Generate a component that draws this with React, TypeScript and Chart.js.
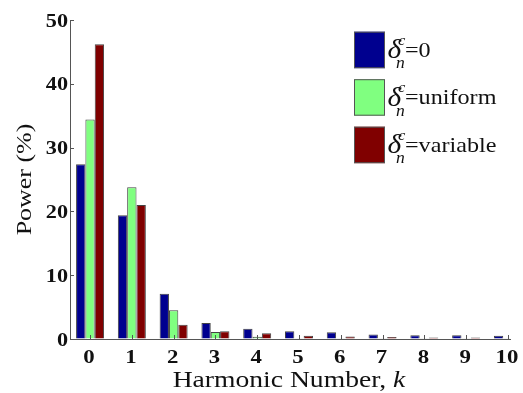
import React, { useEffect, useRef } from "react";
import { Chart, registerables } from "chart.js";

Chart.register(...registerables);

const categories = [0, 1, 2, 3, 4, 5, 6, 7, 8, 9, 10];
const zeroValues = [27.4, 19.4, 7.1, 2.5, 1.6, 1.2, 1.05, 0.7, 0.6, 0.6, 0.5];
const uniformValues = [34.4, 23.8, 4.5, 1.1, 0.35, 0.1, 0.1, 0.1, 0.1, 0.1, 0.1];
const variableValues = [46.2, 21.0, 2.25, 1.2, 0.9, 0.5, 0.4, 0.3, 0.25, 0.25, 0.1];
const yTicks = [0, 10, 20, 30, 40, 50];
const xTickLabels = ["0", "1", "2", "3", "4", "5", "6", "7", "8", "9", "10"];
const legendSuffixes = ["=0", "=uniform", "=variable"];
const colors = ["#00008F", "#80FF80", "#800000"];

const SERIF = "'Liberation Serif', 'Times New Roman', serif";
const STRETCH = 1.2;

function stretchedText(ctx: any, text: string, x: number, y: number, font: string, align: string, sx = STRETCH) {
  ctx.save();
  ctx.font = font;
  const w = ctx.measureText(text).width * sx;
  let x0 = x;
  if (align === "center") x0 = x - w / 2;
  else if (align === "right") x0 = x - w;
  ctx.translate(x0, y);
  ctx.scale(sx, 1);
  ctx.textAlign = "left";
  ctx.fillText(text, 0, 0);
  ctx.restore();
  return w;
}

const decorPlugin = {
  id: "decor",
  afterDraw(chart: any) {
    const ctx = chart.ctx;
    const { left, top, bottom } = chart.chartArea;
    const xs = chart.scales.x;
    const ys = chart.scales.y;
    ctx.save();
    // inward ticks
    ctx.strokeStyle = "#555";
    ctx.lineWidth = 1;
    ctx.beginPath();
    yTicks.forEach((v) => {
      const y = Math.round(ys.getPixelForValue(v)) + 0.5;
      ctx.moveTo(left, y);
      ctx.lineTo(left + 4, y);
    });
    categories.forEach((v) => {
      const x = Math.round(xs.getPixelForValue(v)) + 0.5;
      ctx.moveTo(x, bottom);
      ctx.lineTo(x, bottom - 4);
    });
    ctx.stroke();

    ctx.fillStyle = "#111";
    ctx.textBaseline = "alphabetic";

    // y tick labels
    yTicks.forEach((v) => {
      const y = ys.getPixelForValue(v);
      stretchedText(ctx, String(v), left - 2, y + 6.5, `bold 18.5px ${SERIF}`, "right");
    });
    // x tick labels
    categories.forEach((v, i) => {
      const x = xs.getPixelForValue(v);
      stretchedText(ctx, xTickLabels[i], x - 1, 363, `bold 19px ${SERIF}`, "center");
    });

    // y title
    ctx.save();
    ctx.translate(31, (top + bottom) / 2);
    ctx.rotate(-Math.PI / 2);
    stretchedText(ctx, "Power (%)", 0, 0, `22px ${SERIF}`, "center", 1.18);
    ctx.restore();

    // x title
    const part1 = "Harmonic Number, ";
    const part2 = "k";
    ctx.font = `23px ${SERIF}`;
    const w1 = ctx.measureText(part1).width * STRETCH;
    ctx.font = `italic 23px ${SERIF}`;
    const w2 = ctx.measureText(part2).width * STRETCH;
    const x0 = 289 - (w1 + w2) / 2;
    stretchedText(ctx, part1, x0, 387, `23px ${SERIF}`, "left");
    stretchedText(ctx, part2, x0 + w1, 387, `italic 23px ${SERIF}`, "left");

    // legend
    chart.data.datasets.forEach((ds: any, i: number) => {
      const t = 31.7 + 47.5 * i;
      ctx.fillStyle = ds.backgroundColor;
      ctx.fillRect(354, t, 31, 36.5);
      ctx.strokeStyle = "#555";
      ctx.strokeRect(354.5, t + 0.5, 30, 35.5);
      ctx.fillStyle = "#111";
      stretchedText(ctx, "\u03b4", 387.5, t + 26.5, `italic 28px ${SERIF}`, "left", 1.05);
      stretchedText(ctx, "c", 398, t + 13, `italic 15px ${SERIF}`, "left", 1.1);
      stretchedText(ctx, "n", 396, t + 36.5, `italic 16px ${SERIF}`, "left", 1.1);
      stretchedText(ctx, legendSuffixes[i], 405, t + 25, `21px ${SERIF}`, "left", 1.15);
    });
    ctx.restore();
  },
};

export default function App() {
  const ref = useRef<HTMLCanvasElement>(null);
  useEffect(() => {
    if (!ref.current) return;
    const mk = (vals: number[], i: number) => ({
      label: "\u03b4" + legendSuffixes[i],
      data: categories.map((c, j) => ({ x: c, y: vals[j] })),
      backgroundColor: colors[i],
      borderColor: "#444",
      borderWidth: 1,
      clip: 0,
      categoryPercentage: 0.67,
      barPercentage: 1,
    });
    const chart = new Chart(ref.current, {
      type: "bar",
      data: {
        datasets: [mk(zeroValues, 0), mk(uniformValues, 1), mk(variableValues, 2)],
      },
      options: {
        animation: false,
        responsive: false,
        devicePixelRatio: 1,
        layout: { padding: { left: 0, right: 13, top: 20, bottom: 0 } },
        plugins: { legend: { display: false }, tooltip: { enabled: false } },
        scales: {
          x: {
            type: "linear",
            min: -0.48,
            max: 10.05,
            offset: false,
            grid: { drawOnChartArea: false, drawTicks: false },
            border: { display: true, color: "#555", width: 1 },
            afterBuildTicks: (s: any) => {
              s.ticks = categories.map((v) => ({ value: v }));
            },
            afterFit: (s: any) => {
              s.height = 54;
            },
            ticks: { display: false },
          },
          y: {
            min: 0,
            max: 50,
            grid: { drawOnChartArea: false, drawTicks: false },
            border: { display: true, color: "#555", width: 1 },
            afterBuildTicks: (s: any) => {
              s.ticks = yTicks.map((v) => ({ value: v }));
            },
            afterFit: (s: any) => {
              s.width = 70;
            },
            ticks: { display: false },
          },
        },
      } as any,
      plugins: [decorPlugin],
    });
    return () => chart.destroy();
  }, []);
  return (
    <div style={{ position: "absolute", left: 0, top: 0, width: 523, height: 393, background: "#fff" }}>
      <canvas ref={ref} width={523} height={393} />
    </div>
  );
}
